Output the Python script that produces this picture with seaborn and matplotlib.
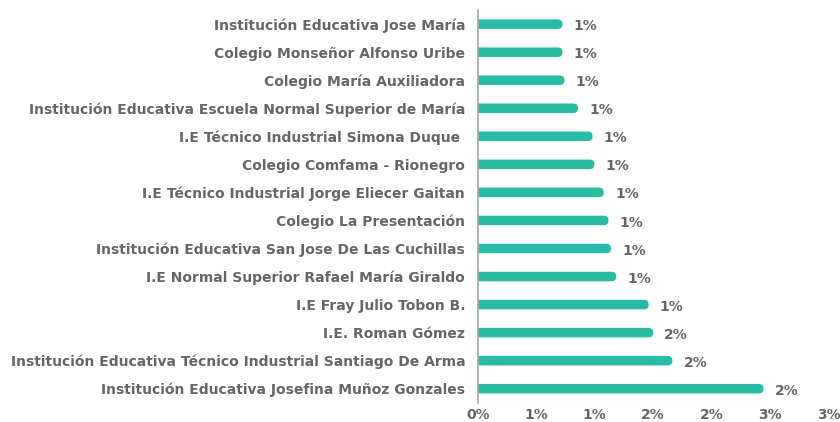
import matplotlib
matplotlib.use("Agg")
import matplotlib.pyplot as plt
from matplotlib.patches import FancyBboxPatch
import seaborn as sns
import pandas as pd

schools = [
    "Institución Educativa Jose María",
    "Colegio Monseñor Alfonso Uribe",
    "Colegio María Auxiliadora",
    "Institución Educativa Escuela Normal Superior de María",
    "I.E Técnico Industrial Simona Duque ",
    "Colegio Comfama - Rionegro",
    "I.E Técnico Industrial Jorge Eliecer Gaitan",
    "Colegio La Presentación",
    "Institución Educativa San Jose De Las Cuchillas",
    "I.E Normal Superior Rafael María Giraldo",
    "I.E Fray Julio Tobon B.",
    "I.E. Roman Gómez",
    "Institución Educativa Técnico Industrial Santiago De Arma",
    "Institución Educativa Josefina Muñoz Gonzales",
]
share = [0.725, 0.725, 0.742, 0.858, 0.982, 0.998, 1.078,
         1.118, 1.140, 1.183, 1.462, 1.500, 1.664, 2.443]
share_labels = ["1%", "1%", "1%", "1%", "1%", "1%", "1%",
                "1%", "1%", "1%", "1%", "2%", "2%", "2%"]
ticks = [0, 0.5, 1.0, 1.5, 2.0, 2.5, 3.0]
tick_labels = ["0%", "1%", "1%", "2%", "2%", "3%", "3%"]

df = pd.DataFrame({"school": schools, "share": share})

teal = "#29BCA5"
grey = "#666666"

sns.set_style("white")
plt.rcParams["font.family"] = ["DejaVu Sans"]

fig = plt.figure(figsize=(8.4, 4.22), dpi=100)
ax = fig.add_axes([0.5687, 0.0457, 0.4179, 0.9303])

bar_h = 0.34
sns.barplot(data=df, x="share", y="school", orient="h", color=teal,
            width=bar_h, ax=ax, saturation=1)
ax.set_xlim(0, 3.0)
ax.set_ylim(13.5, -0.5)

# swap the square bars for ones with a rounded right end
px_per_x = 351 / 3.0
r_px = bar_h / 2 * 28.05
rx = r_px / px_per_x
for p in list(ax.patches):
    x, y = p.get_x(), p.get_y()
    w, h = p.get_width(), p.get_height()
    p.remove()
    fb = FancyBboxPatch((x - rx, y), w + rx, h,
                        boxstyle=f"round,pad=0,rounding_size={rx}",
                        mutation_aspect=(h / 2) / rx * 0.999,
                        facecolor=teal, edgecolor="none")
    ax.add_patch(fb)

for i, (v, lab) in enumerate(zip(share, share_labels)):
    ax.annotate(lab, xy=(v, i), xytext=(8, -1.5), textcoords="offset points",
                ha="left", va="center", fontsize=10, fontweight="bold",
                color=grey)

ax.set_xticks(ticks)
ax.set_xticklabels(tick_labels)
ax.set_xlabel("")
ax.set_ylabel("")
ax.tick_params(axis="both", length=0, colors=grey, labelsize=10)
ax.tick_params(axis="y", pad=9)
ax.tick_params(axis="x", pad=4)
for t in ax.get_xticklabels() + ax.get_yticklabels():
    t.set_fontweight("bold")

for s in ["top", "right", "bottom"]:
    ax.spines[s].set_visible(False)
ax.spines["left"].set_color("#A6A6A6")
ax.spines["left"].set_linewidth(1.2)

fig.savefig("out.png", dpi=100)
